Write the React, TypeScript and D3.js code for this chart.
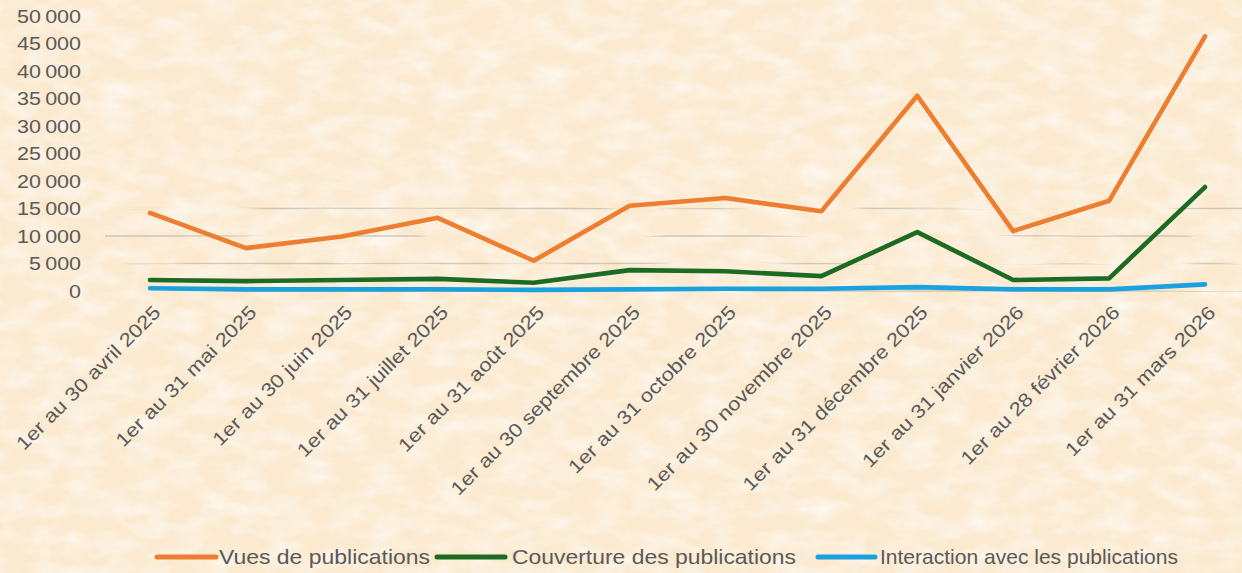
import * as d3 from "d3";

const W = 1242;
const H = 573;

const categories = [
  "1er au 30 avril 2025",
  "1er au 31 mai 2025",
  "1er au 30 juin 2025",
  "1er au 31 juillet 2025",
  "1er au 31 août 2025",
  "1er au 30 septembre 2025",
  "1er au 31 octobre 2025",
  "1er au 30 novembre 2025",
  "1er au 31 décembre 2025",
  "1er au 31 janvier 2026",
  "1er au 28 février 2026",
  "1er au 31 mars 2026",
];

const vues = [14200, 7800, 9900, 13300, 5500, 15500, 16900, 14500, 35500, 10900, 16400, 46300];
const couverture = [2000, 1800, 2000, 2200, 1500, 3800, 3600, 2700, 10700, 2000, 2300, 18900];
const interaction = [500, 300, 300, 300, 200, 300, 400, 400, 700, 300, 300, 1200];

const yTicks = [0, 5000, 10000, 15000, 20000, 25000, 30000, 35000, 40000, 45000, 50000];
const gridTicks = [0, 5000, 10000, 15000];

const series = [
  { name: "Vues de publications", values: vues, color: "#ED7D31" },
  { name: "Couverture des publications", values: couverture, color: "#1D6B23" },
  { name: "Interaction avec les publications", values: interaction, color: "#1BA1DE" },
];

const TEXT = "#595959";
const FONT = "'Liberation Sans', Arial, sans-serif";

// French thousands separator
const fmt = (v: number) => d3.format(",")(v).replace(/,/g, "\u202F");

export default function App() {
  const x = d3.scalePoint<string>().domain(categories).range([150, 1205]);
  const y = d3.scaleLinear().domain([0, 50000]).range([291, 16]);

  const line = d3
    .line<number>()
    .x((_, i) => x(categories[i])!)
    .y((v) => y(v));

  const legendItems = [
    { sx: 157, ex: 216, tx: 219, tl: 211 },
    { sx: 437, ex: 505, tx: 512, tl: 284 },
    { sx: 818, ex: 875, tx: 880, tl: 298 },
  ];

  return (
    <svg
      width={W}
      height={H}
      style={{ position: "absolute", left: 0, top: 0 }}
      fontFamily={FONT}
    >
      <defs>
        <filter id="parchment" x="0" y="0" width="100%" height="100%">
          <feTurbulence type="fractalNoise" baseFrequency="0.03 0.06" numOctaves={4} seed={3} result="noise" />
          <feColorMatrix
            in="noise"
            type="matrix"
            values="0 0 0 0 1  0 0 0 0 0.975  0 0 0 0 0.935  0 0 0 -1.4 0.85"
            result="spots"
          />
          <feComposite in="spots" in2="SourceGraphic" operator="over" />
        </filter>
        <filter id="broken" x="0" y="0" width="100%" height="100%" filterUnits="userSpaceOnUse">
          <feTurbulence type="fractalNoise" baseFrequency="0.008 0.2" numOctaves={2} seed={11} result="n" />
          <feColorMatrix
            in="n"
            type="matrix"
            values="0 0 0 0 0  0 0 0 0 0  0 0 0 0 0  0 0 0 -9 4.8"
            result="m"
          />
          <feComposite in="SourceGraphic" in2="m" operator="in" />
        </filter>
      </defs>

      <rect width={W} height={H} fill="#FBEAD0" filter="url(#parchment)" />

      {/* gridlines, partly hidden by the paper texture */}
      <g filter="url(#broken)">
        {gridTicks.map((t) => (
          <line
            key={t}
            x1={105}
            x2={W}
            y1={y(t)}
            y2={y(t)}
            stroke="#a9a59e"
            strokeOpacity={0.55}
            strokeWidth={1.3}
          />
        ))}
      </g>

      {/* y axis labels */}
      {yTicks.map((t) => (
        <text
          key={t}
          transform={`translate(81,${y(t)}) scale(1.13,1)`}
          dy="0.36em"
          textAnchor="end"
          fontSize={19}
          fill={TEXT}
        >
          {fmt(t)}
        </text>
      ))}

      {/* x axis labels */}
      {categories.map((c) => (
        <text
          key={c}
          transform={`translate(${x(c)! + 7},${309}) rotate(-45) scale(1.16,1)`}
          textAnchor="end"
          dy="0.35em"
          fontSize={19}
          fill={TEXT}
        >
          {c}
        </text>
      ))}

      {/* lines */}
      {series.map((s) => (
        <path
          key={s.name}
          d={line(s.values)!}
          fill="none"
          stroke={s.color}
          strokeWidth={4.6}
          strokeLinejoin="round"
          strokeLinecap="round"
        />
      ))}

      {/* legend */}
      {series.map((s, i) => {
        const l = legendItems[i];
        return (
          <g key={s.name}>
            <line
              x1={l.sx}
              x2={l.ex}
              y1={557}
              y2={557}
              stroke={s.color}
              strokeWidth={5}
              strokeLinecap="round"
            />
            <text
              x={l.tx}
              y={557}
              dy="0.35em"
              fontSize={21}
              fill={TEXT}
              textLength={l.tl}
              lengthAdjust="spacingAndGlyphs"
            >
              {s.name}
            </text>
          </g>
        );
      })}
    </svg>
  );
}
